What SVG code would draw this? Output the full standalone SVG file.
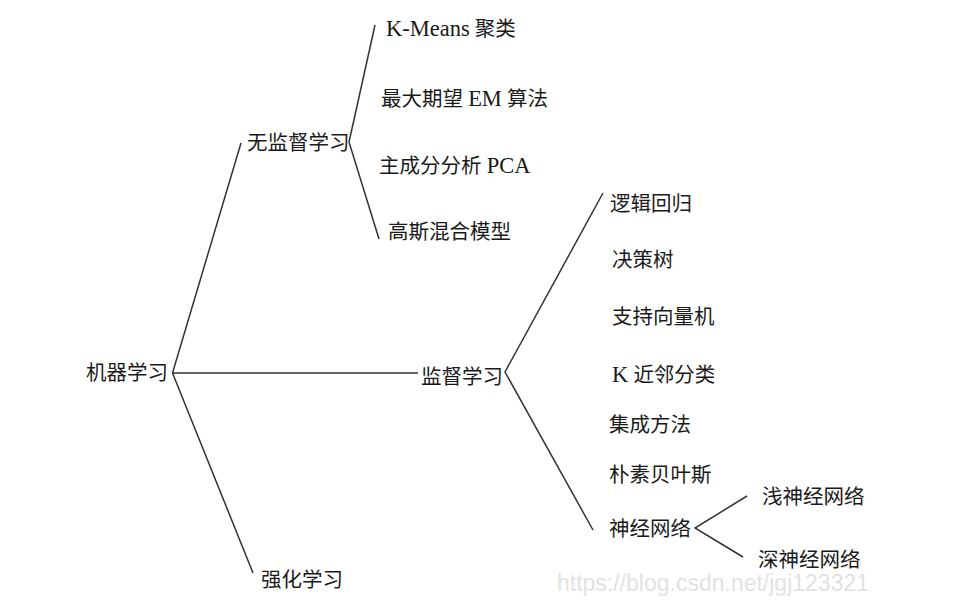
<svg xmlns="http://www.w3.org/2000/svg" width="979" height="607" viewBox="0 0 979 607">
<style>
text{font-family:"Liberation Serif","Noto Sans CJK SC",serif;font-size:20.5px;fill:#1a1a1a}
.lat{font-size:22.5px}
.wm{font-family:"Liberation Sans",Arial,sans-serif;font-size:23px;fill:#e2e2e2}
.c{fill:none;stroke:#333;stroke-width:1.5;stroke-linejoin:miter}
</style>
<rect width="979" height="607" fill="#fff"/>
<g id="connectors">
<polyline class="c" points="241,143 172.5,373 253,573"/>
<line class="c" x1="172.5" y1="373" x2="418" y2="373"/>
<polyline class="c" points="375,25 349,142 379,239"/>
<polyline class="c" points="603,193 505,372 593,530"/>
<polyline class="c" points="747,496 695,528 743,557"/>
</g>
<g id="n-ml"><text x="86" y="380">机器学习</text></g>
<g id="n-unsup"><text x="247" y="150">无监督学习</text></g>
<g id="n-sup"><text x="421" y="384">监督学习</text></g>
<g id="n-rl"><text x="261" y="587">强化学习</text></g>
<g id="n-kmeans"><text x="386" y="36"><tspan class="lat">K-Means</tspan> 聚类</text></g>
<g id="n-em"><text x="381" y="106">最大期望 <tspan class="lat">EM</tspan> 算法</text></g>
<g id="n-pca"><text x="379" y="173">主成分分析 <tspan class="lat">PCA</tspan></text></g>
<g id="n-gmm"><text x="388" y="239">高斯混合模型</text></g>
<g id="n-lr"><text x="610" y="211">逻辑回归</text></g>
<g id="n-dt"><text x="612" y="267">决策树</text></g>
<g id="n-svm"><text x="612" y="324">支持向量机</text></g>
<g id="n-knn"><text x="612" y="382"><tspan class="lat">K</tspan> 近邻分类</text></g>
<g id="n-ens"><text x="609" y="432">集成方法</text></g>
<g id="n-nb"><text x="609" y="482">朴素贝叶斯</text></g>
<g id="n-nn"><text x="609" y="536">神经网络</text></g>
<g id="n-snn"><text x="762" y="504">浅神经网络</text></g>
<g id="n-dnn"><text x="758" y="567">深神经网络</text></g>
<text class="wm" x="557" y="591">https://blog.csdn.net/jgj123321</text>
</svg>
